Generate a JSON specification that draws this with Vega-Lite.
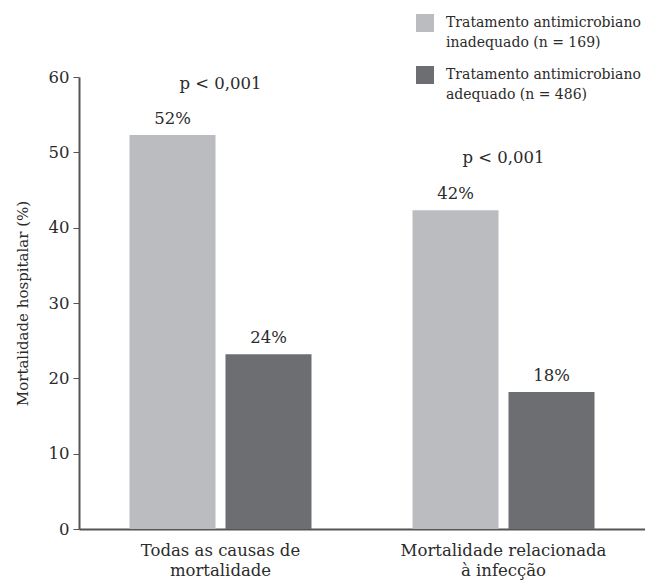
{
  "$schema": "https://vega.github.io/schema/vega-lite/v6.json",
  "width": 566,
  "height": 452,
  "autosize": "none",
  "padding": {"left": 79, "top": 77, "right": 0, "bottom": 53},
  "config": {
    "view": {"stroke": null},
    "font": "DejaVu Serif",
    "text": {"font": "DejaVu Serif", "fontSize": 16.5, "color": "#2b2b2b"}
  },
  "datasets": {
    "bars": [
      {"grupo": "Todas as causas de\nmortalidade", "tratamento": "Tratamento antimicrobiano\ninadequado (n = 169)", "valor": 52.3, "rotulo": "52%"},
      {"grupo": "Todas as causas de\nmortalidade", "tratamento": "Tratamento antimicrobiano\nadequado (n = 486)", "valor": 23.2, "rotulo": "24%"},
      {"grupo": "Mortalidade relacionada\nà infecção", "tratamento": "Tratamento antimicrobiano\ninadequado (n = 169)", "valor": 42.3, "rotulo": "42%"},
      {"grupo": "Mortalidade relacionada\nà infecção", "tratamento": "Tratamento antimicrobiano\nadequado (n = 486)", "valor": 18.2, "rotulo": "18%"}
    ],
    "pvals": [
      {"grupo": "Todas as causas de\nmortalidade", "pos": 59.1, "texto": "p < 0,001"},
      {"grupo": "Mortalidade relacionada\nà infecção", "pos": 49.2, "texto": "p < 0,001"}
    ]
  },
  "encoding": {
    "x": {
      "field": "grupo", "type": "nominal", "sort": null,
      "scale": {"paddingInner": 0, "paddingOuter": 0},
      "axis": {
        "title": null, "labelAngle": 0, "ticks": false,
        "labelExpr": "split(datum.label, '\\n')",
        "labelFont": "DejaVu Serif", "labelFontSize": 16.5, "labelColor": "#2b2b2b",
        "labelLineHeight": 20, "labelPadding": 13, "labelLimit": 400,
        "domainColor": "#555555", "domainWidth": 2
      }
    }
  },
  "layer": [
    {
      "data": {"name": "bars"},
      "mark": {"type": "bar"},
      "encoding": {
        "xOffset": {"field": "tratamento", "type": "nominal", "sort": null,
          "scale": {"paddingInner": 0.104, "paddingOuter": 0.526}},
        "y": {
          "field": "valor", "type": "quantitative",
          "scale": {"domain": [0, 60], "nice": false},
          "axis": {
            "title": "Mortalidade hospitalar (%)", "grid": false,
            "values": [0, 10, 20, 30, 40, 50, 60],
            "titleFont": "DejaVu Serif", "titleFontSize": 15, "titleFontWeight": "normal",
            "titleColor": "#2b2b2b", "titlePadding": 18,
            "labelFont": "DejaVu Serif", "labelFontSize": 16.5, "labelColor": "#2b2b2b",
            "tickSize": 6, "tickColor": "#555555", "domainColor": "#555555", "domainWidth": 2,
            "labelPadding": 4
          }
        },
        "color": {
          "field": "tratamento", "type": "nominal", "sort": null,
          "scale": {"range": ["#bbbcc0", "#6d6e72"]},
          "legend": {
            "title": null, "orient": "none", "legendX": 337, "legendY": -63,
            "symbolType": "square", "symbolSize": 324, "symbolStrokeWidth": 0,
            "labelExpr": "split(datum.label, '\\n')",
            "labelFont": "DejaVu Serif", "labelFontSize": 14, "labelColor": "#2b2b2b",
            "labelLimit": 300, "labelOffset": 12, "rowPadding": 16,
            "encode": {"labels": {"update": {"lineHeight": {"value": 20}}}}
          }
        }
      }
    },
    {
      "data": {"name": "bars"},
      "mark": {"type": "text", "baseline": "bottom", "dy": -8},
      "encoding": {
        "xOffset": {"field": "tratamento", "type": "nominal", "sort": null,
          "scale": {"paddingInner": 0.104, "paddingOuter": 0.526}},
        "y": {"field": "valor", "type": "quantitative"},
        "text": {"field": "rotulo"}
      }
    },
    {
      "data": {"name": "pvals"},
      "mark": {"type": "text", "baseline": "middle"},
      "encoding": {
        "y": {"field": "pos", "type": "quantitative"},
        "text": {"field": "texto"}
      }
    }
  ]
}
